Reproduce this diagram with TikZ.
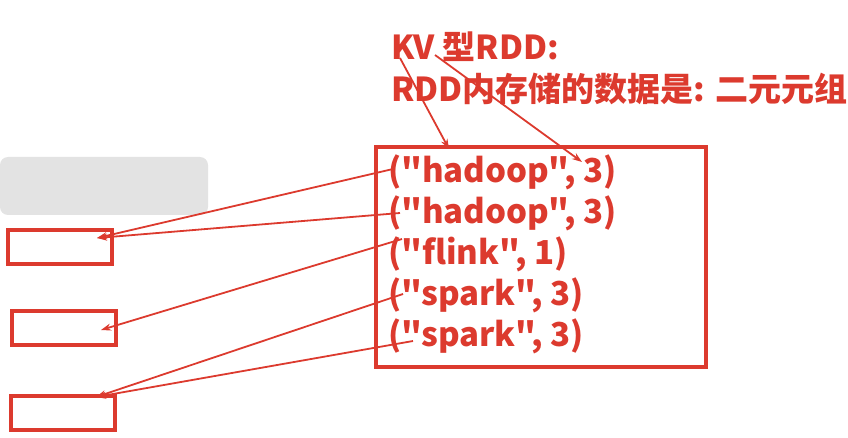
\documentclass[tikz,border=0pt]{standalone}
\usepackage{fontspec}
\setmainfont{Noto Sans CJK SC}
\newfontfamily\pairfont{Noto Sans CJK SC}
\usetikzlibrary{arrows.meta}
\definecolor{markRed}{HTML}{DC3A2E}

\begin{document}
\begin{tikzpicture}[x=1pt,y=-1pt,
    entry/.style={anchor=west, inner sep=0pt, text=markRed,
      font=\fontsize{33}{40}\selectfont\bfseries},
    pair/.style={entry, font=\pairfont\fontsize{33}{40}\selectfont\bfseries},
    slot/.style={draw=markRed, line width=3.2pt, minimum width=104pt,
      minimum height=34pt, inner sep=0pt},
    link/.style={draw=markRed, line width=1.8pt,
      -{Stealth[length=10pt,width=7pt]}}]
    \useasboundingbox (0,0) rectangle (848,438);

    % --- blurred spot ---
    \fill[gray!22, rounded corners=8pt] (0,157) rectangle (208,215);

    % --- titles ---
    \node[entry] (kv) at (391,47) {KV 型RDD:};
    \node[entry] (desc) at (391,89) {RDD内存储的数据是: 二元元组};

    % --- the RDD box with its pairs ---
    \node[draw=markRed, line width=3.2pt, minimum width=330pt,
      minimum height=220pt, inner sep=0pt] (rdd) at (541,257) {};
    \foreach \txt [count=\i] in {{("hadoop", 3)}, {("hadoop", 3)},
        {("flink", 1)}, {("spark", 3)}, {("spark", 3)}}
      \node[pair] (e\i) at (388,131+41*\i) {\txt};

    % --- partitions on the left ---
    \node[slot] (b1) at (60,247) {};
    \node[slot] (b2) at (64,328) {};
    \node[slot] (b3) at (63,413) {};

    % arrow tips
    \coordinate (t1) at (97,238);
    \coordinate (t2) at (101,330);
    \coordinate (t3) at (96,397);
    \coordinate (boxTip) at (449,149);
    \coordinate (pairTip) at (582,162);

    % --- arrows ---
    \draw[link] ([xshift=9pt,yshift=-11pt]kv.west) -- (boxTip);
    \draw[link] ([xshift=44pt,yshift=-8pt]kv.west) -- (pairTip);

    \draw[link] ([xshift=5pt,yshift=3pt]e1.west) -- (t1);
    \draw[link] ([xshift=12pt]e2.west) -- (t1);
    \draw[link] ([xshift=14pt,yshift=15pt]e3.west) -- (t2);
    \draw[link] ([xshift=15pt,yshift=1pt]e4.west) -- (t3);
    \draw[link] ([xshift=25pt,yshift=-5pt]e5.west) -- (t3);
\end{tikzpicture}
\end{document}
